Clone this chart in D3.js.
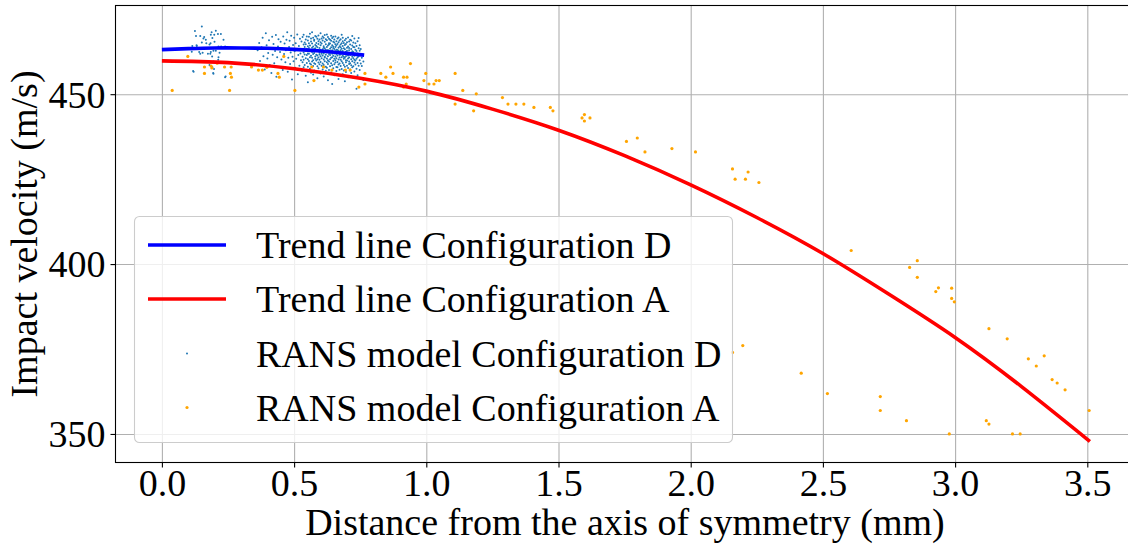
<!DOCTYPE html>
<html lang="en">
<head>
<meta charset="utf-8" />
<script src="https://d3js.org/d3.v7.min.js" charset="utf-8"></script>
<style>
  body { margin: 0; background: #fff; }
  svg text { font-family: 'Liberation Serif', 'Times New Roman', serif; }
  .grid line { stroke: #b0b0b0; stroke-width: 1.1; }
  .grid path { stroke: none; }
</style>
</head>
<body>
<div id="plot-container"></div>
<script>
// ---- data ----------------------------------------------------------

// trend lines (distance in mm, velocity in m/s)
var trendD_x = [0, 0.1, 0.2, 0.3, 0.4, 0.5, 0.6, 0.7, 0.765];
var trendD_y = [463.1, 463.4, 463.6, 463.6, 463.5, 463.2, 462.7, 462.0, 461.5];

var trendA_x = [0, 0.25, 0.5, 0.75, 1.0, 1.25, 1.5, 1.75, 2.0, 2.25, 2.5, 2.75, 3.0, 3.25, 3.51];
var trendA_y = [459.8, 459.3, 457.5, 454.7, 450.9, 445.6, 439.4, 431.9, 423.3, 413.7, 403.1, 391.1, 378.4, 364.0, 347.8];

// RANS model, configuration A
var ransA = [
  [0.039,451.1],[0.098,461.1],[0.161,458.0],[0.186,458.3],[0.189,457.7],[0.161,456.1],[0.209,459.1],
  [0.237,458.0],[0.262,458.0],[0.259,456.1],[0.263,455.0],[0.256,451.1],[0.339,458.0],[0.365,457.1],
  [0.380,457.1],[0.397,457.9],[0.439,456.1],[0.444,455.0],[0.461,461.1],[0.503,451.1],[0.575,454.0],
  [0.567,458.0],[0.611,458.0],[0.643,457.1],[0.694,457.1],[0.712,457.1],[0.745,452.1],[0.768,453.0],
  [0.768,456.1],[0.828,456.1],[0.847,455.0],[0.865,458.0],[0.874,456.1],[0.914,455.0],[0.927,455.0],
  [0.924,453.0],[0.914,452.1],[0.940,459.0],[0.991,454.0],[0.998,456.1],[1.010,453.0],[1.029,453.0],
  [1.037,454.0],[1.049,454.0],[1.109,456.1],[1.109,447.1],[1.138,451.1],[1.179,445.1],[1.189,450.1],
  [1.288,449.0],[1.309,447.1],[1.339,447.1],[1.369,447.1],[1.407,446.1],[1.469,446.1],[1.479,445.1],
  [1.589,443.0],[1.598,444.0],[1.598,442.1],[1.619,443.0],[1.757,436.1],[1.798,437.1],[1.827,433.0],
  [1.929,434.0],[2.018,433.0],[2.158,428.0],[2.217,427.1],[2.168,425.0],[2.207,425.0],[2.258,424.0],
  [2.607,404.0],[2.828,399.0],[2.857,401.0],[2.857,396.1],[2.937,393.0],[2.927,391.9],[2.987,392.9],
  [2.987,389.9],[2.997,388.9],[3.128,381.0],[3.197,378.0],[3.277,372.1],[3.307,370.0],[3.337,373.0],
  [3.367,366.0],[3.386,365.0],[3.416,363.0],[3.507,356.9],[2.197,376.0],[2.158,374.0],[2.418,367.9],
  [2.517,361.9],[2.717,361.0],[2.717,356.9],[2.816,353.9],[2.978,350.0],[3.118,353.9],[3.128,352.9],
  [3.217,350.0],[3.246,350.0]
];

// RANS model, configuration D: small cluster near 0.12-0.24 mm
var ransD_inner = [
  [0.151,469.9],[0.125,468.6],[0.129,467.1],[0.145,467.1],[0.160,466.8],[0.157,466.4],[0.188,468.2],
  [0.204,468.7],[0.185,467.5],[0.198,467.5],[0.212,467.7],[0.223,467.7],[0.191,466.5],[0.166,466.0],
  [0.151,465.2],[0.168,465.0],[0.184,465.0],[0.180,464.6],[0.199,465.4],[0.233,466.0],[0.131,464.4],
  [0.115,464.2],[0.132,464.2],[0.214,464.0],[0.224,464.0],[0.239,464.0],[0.195,462.8],[0.204,462.8],
  [0.185,462.4],[0.174,461.9],[0.183,461.9],[0.141,462.4],[0.145,461.9],[0.154,462.2],[0.113,462.5],
  [0.218,462.2],[0.190,461.1],[0.214,460.9],[0.213,460.1],[0.195,459.6],[0.180,458.6],[0.191,457.9],
  [0.197,457.4],[0.120,456.6],[0.194,456.2],[0.241,455.2],[0.118,456.8],[0.195,456.0],[0.239,455.0]
];

// configuration D: sparser part of the main cluster, 0.36-0.53 mm
var ransD_mid = [
  [0.362,462.9],[0.368,465.1],[0.371,459.8],[0.377,463.8],[0.381,466.6],[0.384,461.2],[0.389,457.3],
  [0.393,467.9],[0.396,464.4],[0.399,460.5],[0.402,462.1],[0.405,465.9],[0.408,458.6],[0.411,463.3],
  [0.414,456.2],[0.417,466.9],[0.419,461.6],[0.422,464.8],[0.425,459.1],[0.428,462.7],[0.431,467.4],
  [0.433,455.1],[0.436,460.9],[0.439,464.0],[0.441,466.2],[0.444,458.0],[0.447,462.4],[0.449,465.4],
  [0.452,460.2],[0.454,463.6],[0.457,457.1],[0.459,467.0],[0.462,461.8],[0.464,464.9],[0.467,459.4],
  [0.469,462.9],[0.471,466.0],[0.474,468.2],[0.476,456.6],[0.478,460.7],[0.481,463.9],[0.483,465.7],
  [0.485,458.9],[0.487,462.3],[0.489,467.2],[0.492,454.3],[0.494,461.0],[0.496,464.5],[0.498,459.7],
  [0.500,466.6],[0.502,462.6],[0.504,457.8],[0.506,465.0],[0.508,460.4],[0.510,463.2],[0.512,467.6],
  [0.514,455.9],[0.516,461.5],[0.518,464.2],[0.520,458.4],[0.522,466.3],[0.524,462.0],[0.526,460.0],
  [0.528,465.5],[0.530,456.9]
];

// configuration D: dense core, one distance with the velocities read at it
var ransD_core = [
  [0.532, 463.1,459.4,466.8,461.0],
  [0.536, 464.6,457.9,462.3,467.5,460.1],
  [0.540, 461.7,465.2,458.6,463.9],
  [0.544, 466.1,460.6,462.8,455.4,464.7],
  [0.548, 459.2,463.4,467.0,461.5,457.2],
  [0.552, 465.8,462.0,460.3,453.5,464.1,458.1],
  [0.556, 463.6,466.9,459.8,461.9,465.0],
  [0.560, 460.9,464.3,457.5,462.6,467.8,459.0],
  [0.564, 465.5,461.3,463.0,458.7,466.4,456.3],
  [0.568, 462.4,459.6,464.9,460.7,468.2,463.7],
  [0.572, 466.6,458.3,461.8,464.0,460.0,455.8],
  [0.576, 463.3,465.7,459.1,462.1,457.0,466.0],
  [0.580, 460.4,464.5,461.1,467.1,458.9,463.5],
  [0.584, 465.1,462.7,459.9,456.8,464.2,461.6,466.9],
  [0.588, 461.4,463.8,458.2,466.3,460.3,454.7],
  [0.592, 464.8,460.8,462.9,459.3,467.3,465.6,457.6],
  [0.596, 462.2,466.1,458.8,461.7,463.6,460.1],
  [0.600, 459.5,465.3,463.0,467.9,461.2,456.1,464.4],
  [0.604, 466.4,462.5,460.6,458.4,464.9,461.9],
  [0.608, 463.2,459.0,465.8,461.4,467.0,457.3,462.8],
  [0.612, 460.2,464.1,462.0,466.6,458.6,455.2,463.7],
  [0.616, 465.4,461.0,463.5,459.7,467.4,460.8],
  [0.620, 462.6,466.2,458.1,464.7,461.6,456.9,463.1],
  [0.624, 459.4,463.9,465.9,460.5,462.3,467.6,457.8],
  [0.628, 464.3,461.2,466.8,458.9,463.0,460.0,454.1],
  [0.632, 461.8,465.0,459.6,462.7,464.6,466.3,457.1],
  [0.636, 463.4,460.3,466.0,458.2,461.5,464.9,462.1],
  [0.640, 465.7,462.4,459.1,463.8,467.2,460.7,456.4],
  [0.644, 460.9,464.4,462.9,466.5,458.5,461.9,453.0],
  [0.648, 463.6,459.8,465.4,461.3,457.6,464.0,466.9],
  [0.652, 462.0,466.1,460.4,463.3,458.8,465.2,455.6],
  [0.656, 464.7,461.1,459.3,462.6,467.0,460.0,463.9],
  [0.660, 460.6,465.6,463.1,458.0,461.8,464.3,456.8],
  [0.664, 463.0,459.5,466.4,461.4,464.8,462.2,457.9],
  [0.668, 465.3,462.8,460.2,458.7,463.7,466.7,454.5],
  [0.672, 461.6,464.1,459.0,462.4,465.8,460.8,457.2],
  [0.676, 463.8,460.1,466.2,461.7,458.3,464.6,462.9],
  [0.680, 459.7,465.0,462.3,463.4,457.4,460.9,467.5],
  [0.684, 464.2,461.3,466.6,459.2,462.7,455.9,465.6],
  [0.688, 462.1,463.5,458.6,460.4,465.1,461.0,457.0],
  [0.692, 465.9,460.7,463.2,458.1,461.9,464.5,453.8],
  [0.696, 461.2,464.8,459.4,462.5,466.3,460.0,456.5],
  [0.700, 463.7,459.9,461.6,465.3,458.4,462.8],
  [0.704, 460.5,464.0,462.2,466.7,457.7,461.4,455.0],
  [0.708, 462.9,458.9,465.5,460.8,463.6,459.6],
  [0.712, 464.6,461.5,459.1,462.0,466.0,457.3],
  [0.716, 460.3,463.3,465.8,458.5,461.8,456.2],
  [0.720, 462.6,459.7,464.3,461.0,467.1,457.9],
  [0.724, 465.2,460.6,462.4,458.2,463.9,454.8],
  [0.728, 461.3,463.8,459.3,466.4,460.1,456.7],
  [0.732, 463.1,458.7,461.9,465.0,459.9],
  [0.736, 460.4,464.2,457.5,462.7,451.6],
  [0.740, 462.0,459.2,465.6,460.9,455.6],
  [0.744, 463.5,458.4,461.2,466.5],
  [0.748, 460.0,462.8,457.1,464.4],
  [0.752, 461.6,459.0,463.3],
  [0.756, 458.3,460.7],
  [0.762, 459.6,454.2]
];

var xTicks = [0, 0.5, 1.0, 1.5, 2.0, 2.5, 3.0, 3.5];
var yTicks = [350, 400, 450];

var legendLabels = [
  'Trend line Configuration D',
  'Trend line Configuration A',
  'RANS model Configuration D',
  'RANS model Configuration A'
];

// ---- layout -----------------------------------------------------------
var W = 1128, H = 545;
var box = { left: 115.5, top: 5.5, bottom: 462.5 };
var xDomain = [-0.1755, 3.6855];
var pxPerUnit = 264.4;
box.right = box.left + (xDomain[1] - xDomain[0]) * pxPerUnit;

var fontSize = 38;

var x = d3.scaleLinear().domain(xDomain).range([box.left, box.right]);
var y = d3.scaleLinear().domain([341.6, 476.1]).range([box.bottom, box.top]);

var svg = d3.select('#plot-container').append('svg')
  .attr('width', W).attr('height', H);

svg.append('defs').append('clipPath').attr('id', 'clip')
  .append('rect')
  .attr('x', box.left).attr('y', box.top)
  .attr('width', box.right - box.left).attr('height', box.bottom - box.top);

// grid
svg.append('g').attr('class', 'grid')
  .attr('transform', 'translate(0,' + box.bottom + ')')
  .call(d3.axisBottom(x).tickValues(xTicks).tickSize(-(box.bottom - box.top)).tickFormat(''));
svg.append('g').attr('class', 'grid')
  .attr('transform', 'translate(' + box.left + ',0)')
  .call(d3.axisLeft(y).tickValues(yTicks).tickSize(-(box.right - box.left)).tickFormat(''));

var plot = svg.append('g').attr('clip-path', 'url(#clip)');

// scatter D
var ptsD = ransD_inner.concat(ransD_mid);
ransD_core.forEach(function (col) {
  for (var i = 1; i < col.length; i++) ptsD.push([col[0], col[i]]);
});
plot.append('g').selectAll('circle').data(ptsD).join('circle')
  .attr('cx', function (d) { return x(d[0]); })
  .attr('cy', function (d) { return y(d[1]); })
  .attr('r', 1.0)
  .attr('fill', '#1f77b4');

// scatter A
plot.append('g').selectAll('circle').data(ransA).join('circle')
  .attr('cx', function (d) { return x(d[0]); })
  .attr('cy', function (d) { return y(d[1]); })
  .attr('r', 1.6)
  .attr('fill', '#ffa500');

// trend lines
var line = d3.line()
  .x(function (d) { return x(d[0]); })
  .y(function (d) { return y(d[1]); })
  .curve(d3.curveNatural);

plot.append('path').datum(d3.zip(trendA_x, trendA_y))
  .attr('d', line).attr('fill', 'none').attr('stroke', '#ff0000').attr('stroke-width', 3.6);
plot.append('path').datum(d3.zip(trendD_x, trendD_y))
  .attr('d', line).attr('fill', 'none').attr('stroke', '#0000ff').attr('stroke-width', 3.6);

// axes
var xAxis = svg.append('g')
  .attr('transform', 'translate(0,' + box.bottom + ')')
  .call(d3.axisBottom(x).tickValues(xTicks).tickSize(5).tickPadding(2).tickFormat(d3.format('.1f')));
var yAxis = svg.append('g')
  .attr('transform', 'translate(' + box.left + ',0)')
  .call(d3.axisLeft(y).tickValues(yTicks).tickSize(5).tickPadding(5).tickFormat(d3.format('d')));

[xAxis, yAxis].forEach(function (g) {
  g.select('.domain').remove();
  g.attr('font-family', null).attr('font-size', null);
  g.selectAll('.tick line').attr('stroke', '#000').attr('stroke-width', 1.1);
  g.selectAll('.tick text').attr('fill', '#000').style('font-size', fontSize + 'px');
});
xAxis.selectAll('.tick text').attr('dy', '0.71em');
yAxis.selectAll('.tick text').attr('dy', '0.34em');

// spines (right one falls outside the picture)
svg.append('rect')
  .attr('x', box.left).attr('y', box.top)
  .attr('width', box.right - box.left).attr('height', box.bottom - box.top)
  .attr('fill', 'none').attr('stroke', '#000').attr('stroke-width', 1.1);

// axis labels
svg.append('text')
  .attr('x', (box.left + box.right) / 2 - 1).attr('y', 535)
  .attr('text-anchor', 'middle')
  .style('font-size', fontSize + 'px')
  .text('Distance from the axis of symmetry (mm)');

svg.append('text')
  .attr('transform', 'translate(36.5,' + (box.top + box.bottom) / 2 + ') rotate(-90)')
  .attr('text-anchor', 'middle')
  .style('font-size', fontSize + 'px')
  .text('Impact velocity (m/s)');

// legend
var legend = svg.append('g').attr('class', 'legend');
legend.append('rect')
  .attr('x', 134.5).attr('y', 216.5).attr('width', 598).attr('height', 226)
  .attr('rx', 5)
  .attr('fill', '#fff').attr('fill-opacity', 0.8)
  .attr('stroke', '#cccccc').attr('stroke-width', 1.1);

var rowY = [245, 299, 353.5, 407.5];
legend.append('line').attr('x1', 148).attr('x2', 226).attr('y1', rowY[0]).attr('y2', rowY[0])
  .attr('stroke', '#0000ff').attr('stroke-width', 3.6);
legend.append('line').attr('x1', 148).attr('x2', 226).attr('y1', rowY[1]).attr('y2', rowY[1])
  .attr('stroke', '#ff0000').attr('stroke-width', 3.6);
legend.append('circle').attr('cx', 187).attr('cy', rowY[2]).attr('r', 1.0).attr('fill', '#1f77b4');
legend.append('circle').attr('cx', 187).attr('cy', rowY[3]).attr('r', 1.6).attr('fill', '#ffa500');

legend.selectAll('text.lab').data(legendLabels).join('text')
  .attr('class', 'lab')
  .attr('x', 256)
  .attr('y', function (d, i) { return rowY[i] + 13; })
  .style('font-size', fontSize + 'px')
  .text(function (d) { return d; });
</script>
</body>
</html>
